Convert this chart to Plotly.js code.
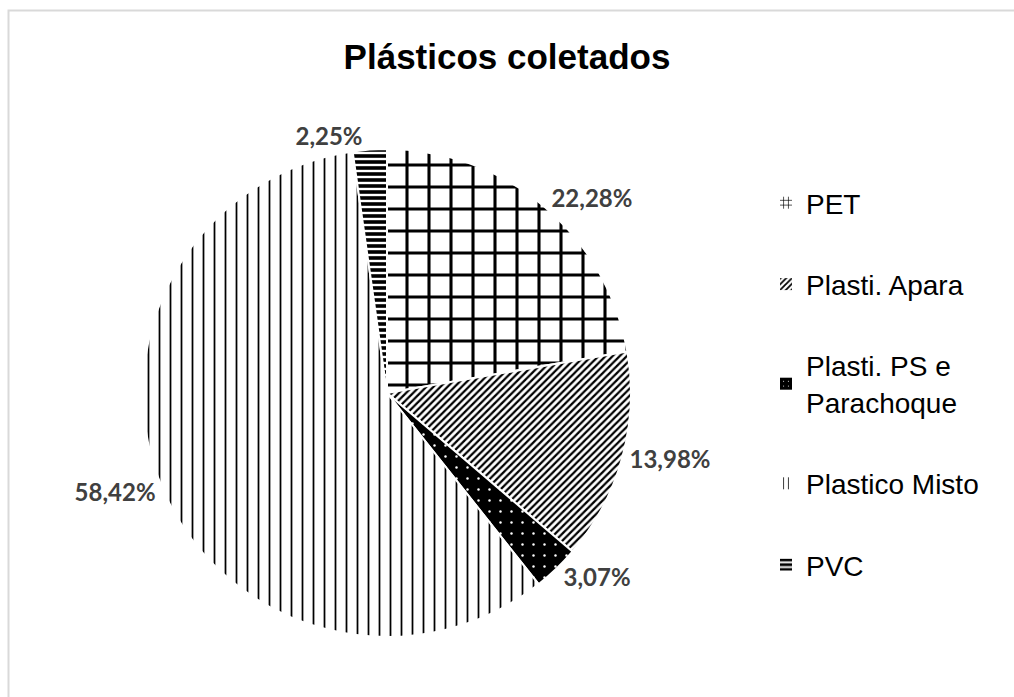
<!DOCTYPE html>
<html>
<head>
<meta charset="utf-8">
<script src="https://cdn.plot.ly/plotly-3.0.1.min.js"></script>
<style>html,body{margin:0;padding:0;background:#fff;}#chart{width:1014px;height:697px;}</style>
</head>
<body>
<div id="chart"></div>
<script>
// Data
var categories = ["PET", "Plasti. Apara", "Plasti. PS e<br>Parachoque", "Plastico Misto", "PVC"];
var shares = [22.28, 13.98, 3.07, 58.42, 2.25];

// Styles (patterns per category)
var patShape = ["+", "/", ".", "|", "-"];
var patBg = ["#ffffff", "#ffffff", "#000000", "#ffffff", "#000000"];
var patFg = ["#000000", "#000000", "#ffffff", "#000000", "#ffffff"];
var patSize = [22, 5, 11, 11, 6];
var patSolid = [0.26, 0.45, 0.04, 0.16, 0.4];

var W = 1014, H = 697;
var cx = 387, cy = 393, R = 244;

var pie = {
  type: "pie",
  labels: categories,
  values: shares,
  sort: false,
  direction: "clockwise",
  rotation: 0,
  showlegend: false,
  texttemplate: "%{percent:.2%}",
  textposition: "outside",
  textfont: {family: "Lato, 'Open Sans', sans-serif", size: 24, color: "#404040", weight: 700},
  hoverinfo: "label+percent",
  marker: {
    colors: patBg,
    line: {color: "#ffffff", width: 2},
    pattern: {shape: patShape, bgcolor: patBg, fgcolor: patFg, size: patSize, solidity: patSolid, fillmode: "replace"}
  },
  domain: {x: [(cx - R) / W, (cx + R) / W], y: [1 - (cy + R) / H, 1 - (cy - R) / H]}
};

// Legend proxies (one per category, so the legend entries can be spaced like the original)
var traces = [pie];
categories.forEach(function (c, i) {
  traces.push({
    type: "bar",
    name: c,
    x: [null], y: [null],
    legendgroup: "g" + i,
    hoverinfo: "skip",
    marker: {
      color: patBg[i],
      line: {width: 0},
      pattern: {shape: patShape[i], bgcolor: patBg[i], fgcolor: patFg[i], size: Math.min(patSize[i], 6), solidity: patSolid[i], fillmode: "replace"}
    }
  });
});

var layout = {
  width: W, height: H,
  margin: {l: 0, r: 0, t: 0, b: 0},
  paper_bgcolor: "#ffffff",
  plot_bgcolor: "#ffffff",
  separators: ",.",
  title: {
    text: "<b>Plásticos coletados</b>",
    x: 0.5, xanchor: "center",
    y: 1 - 57 / H, yanchor: "middle", yref: "container",
    font: {family: "'Liberation Sans', Arial, sans-serif", size: 35, color: "#000000"}
  },
  xaxis: {visible: false},
  yaxis: {visible: false},
  showlegend: true,
  legend: {
    x: 766 / W, xanchor: "left",
    y: 1 - 178 / H, yanchor: "top",
    traceorder: "grouped",
    tracegroupgap: 42,
    font: {family: "'Liberation Sans', Arial, sans-serif", size: 28, color: "#000000"},
    bgcolor: "rgba(0,0,0,0)",
    itemclick: false, itemdoubleclick: false
  },
  shapes: [{
    type: "rect", xref: "paper", yref: "paper",
    x0: 8.5 / W, x1: 1.02, y0: -0.02, y1: 1 - 10.5 / H,
    line: {color: "#d9d9d9", width: 2}, fillcolor: "rgba(0,0,0,0)", layer: "below"
  }]
};

Plotly.newPlot("chart", traces, layout, {displayModeBar: false, staticPlot: true});
</script>
</body>
</html>
